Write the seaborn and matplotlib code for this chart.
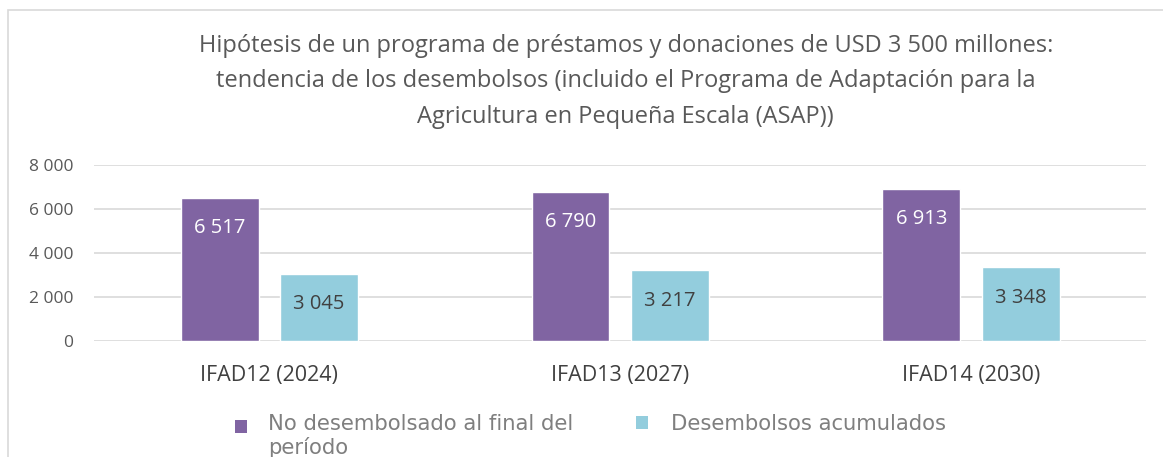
import matplotlib
matplotlib.use("Agg")
import matplotlib.pyplot as plt
import seaborn as sns
import pandas as pd
from functools import partial
from matplotlib.patches import Rectangle, Patch
from matplotlib.legend_handler import HandlerPatch
from matplotlib.ticker import FuncFormatter

# data
periods = ["IFAD12 (2024)", "IFAD13 (2027)", "IFAD14 (2030)"]
no_desembolsado = [6517, 6790, 6913]
desembolsos_acum = [3045, 3217, 3348]
series_names = ["No desembolsado al final del\nperíodo", "Desembolsos acumulados"]
colors = ["#8064A2", "#93CDDD"]

df = pd.DataFrame({
    "Periodo": periods * 2,
    "Serie": [series_names[0]] * 3 + [series_names[1]] * 3,
    "Valor": no_desembolsado + desembolsos_acum,
})

sns.set_style("white")
plt.rcParams["font.family"] = ["Open Sans", "DejaVu Sans"]

def miles(v):
    return f"{int(round(v)):,}".replace(",", " ")

fig = plt.figure(figsize=(11.63, 4.57), dpi=100)
ax = fig.add_axes([0.0808, 0.2538, 0.905, 0.385])

sns.barplot(data=df, x="Periodo", y="Valor", hue="Serie", palette=colors,
            width=0.567, gap=0.216, ax=ax, legend=False, saturation=1)

ax.set_ylim(0, 8000)
ax.set_yticks([0, 2000, 4000, 6000, 8000])
ax.yaxis.set_major_formatter(FuncFormatter(lambda v, p: miles(v)))
ax.grid(axis="y", color="#D9D9D9", linewidth=1.2)
ax.set_axisbelow(True)
for s in ax.spines.values():
    s.set_visible(False)
ax.tick_params(axis="y", length=0, pad=15, labelsize=12.5, labelcolor="#595959")
ax.tick_params(axis="x", length=0, pad=17, labelsize=15.5, labelcolor="#404040")
ax.set_xlabel("")
ax.set_ylabel("")

# value labels inside the top of each bar
for cont, txtcol in zip(ax.containers, ["white", "#404040"]):
    ax.bar_label(cont, labels=[miles(b.get_height()) for b in cont],
                 label_type="edge", padding=-29, color=txtcol, fontsize=14.5)

fig.suptitle("Hipótesis de un programa de préstamos y donaciones de USD 3 500 millones:\n"
             "tendencia de los desembolsos (incluido el Programa de Adaptación para la\n"
             "Agricultura en Pequeña Escala (ASAP))",
             x=0.538, y=0.925, fontsize=17, color="#595959", linespacing=1.62)

# legend marker sits next to the first text line, not the middle of the block
def raised_square(legend, orig_handle, xdescent, ydescent, width, height, fontsize, shift=0):
    return Rectangle((-xdescent, -ydescent + shift), width, height)

# legend: two entries placed separately, as in the reference
for c, name, x0, y0, tpad, shift in zip(colors, series_names, [0.202, 0.547],
                                        [0.046, 0.072], [1.0, 1.1], [7.5, 0]):
    h = Patch(facecolor=c, edgecolor="none")
    fig.legend([h], [name], loc="center left",
               bbox_to_anchor=(x0, y0), frameon=False, labelcolor="#7F7F7F",
               prop={"family": "DejaVu Sans", "size": 15.2},
               handlelength=0.57, handleheight=0.57, handletextpad=tpad,
               borderpad=0, borderaxespad=0,
               handler_map={h: HandlerPatch(patch_func=partial(raised_square, shift=shift))})

# outer chart frame, cropped on the right and bottom
fig.patches.append(Rectangle((0.0069, -0.1), 1.2, 1.078, transform=fig.transFigure,
                             fill=False, edgecolor="#D9D9D9", linewidth=1.2))

fig.savefig("out.png", dpi=100)
